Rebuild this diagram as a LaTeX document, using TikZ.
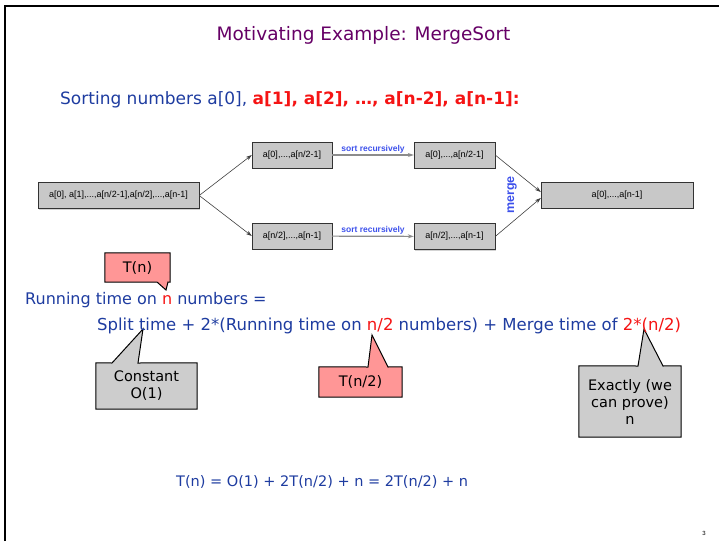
\documentclass[tikz,border=0pt]{standalone}
\usepackage{fontspec}
\setmainfont{DejaVu Sans}
\newfontfamily\boxfont{Liberation Sans}
\usetikzlibrary{positioning,shadows,backgrounds,arrows.meta}

\definecolor{slideblue}{RGB}{30,60,160}
\definecolor{slidered}{RGB}{245,20,20}
\definecolor{titlepurple}{RGB}{102,0,102}
\definecolor{boxgray}{RGB}{200,200,200}
\definecolor{calloutred}{RGB}{255,150,150}
\definecolor{calloutgray}{RGB}{205,205,205}
\definecolor{labelblue}{RGB}{60,80,235}

\begin{document}
\begin{tikzpicture}[
    x=1pt, y=-1pt,
    array/.style={rectangle, draw=black!80, fill=boxgray, inner sep=0pt, minimum height=26pt,
        font=\boxfont\fontsize{9}{10}\selectfont,
        drop shadow={shadow xshift=1pt, shadow yshift=-1pt, opacity=0.35}},
    split/.style={-{Stealth[length=6pt,width=4pt]}, draw=black!75, line width=0.6pt},
    sortarrow/.style={-{Stealth[length=6pt,width=4pt]}, draw=black!45, line width=1.2pt},
    sortlabel/.style={font=\boxfont\bfseries\fontsize{8.5}{9}\selectfont, text=labelblue, inner sep=1pt},
    line/.style={anchor=base west, inner sep=0pt, text=slideblue, font=\fontsize{16}{19}\selectfont},
    calltext/.style={inner sep=0pt, align=center, font=\fontsize{14.5}{17}\selectfont},
    callout/.style={draw=black, line width=1pt}
]
\useasboundingbox (0,0) rectangle (719,541);

% slide frame
\draw[line width=2.5pt] (5,541) -- (5,6) -- (719,6);

% --- Text ---
\node (title) at (363.5,35) [text=titlepurple, font=\fontsize{18.5}{22}\selectfont] {Motivating Example: MergeSort};
\node (problem) at (60,104) [line, font=\fontsize{17}{20}\selectfont] {Sorting numbers a[0], \textcolor{slidered}{\bfseries a[1], a[2], …, a[n-2], a[n-1]:}};

% --- Nodes ---
\node (whole) at (118.5,195.5) [array, minimum width=161pt] {a[0], a[1],...,a[n/2-1],a[n/2],...,a[n-1]};
\node (lefthalf) at (292,155) [array, minimum width=80pt] {a[0],...,a[n/2-1]};
\node (righthalf) at (292,236) [array, minimum width=80pt] {a[n/2],...,a[n-1]};
\node (leftsorted) at (454.5,155) [array, minimum width=81pt] {a[0],...,a[n/2-1]};
\node (rightsorted) at (454.5,236.5) [array, minimum width=81pt] {a[n/2],...,a[n-1]};
\node (merged) at (617,195) [array, minimum width=152pt] {a[0],...,a[n-1]};
\node (mergelabel) at (512,195) [rotate=90, text=labelblue, font=\boxfont\bfseries\fontsize{12.5}{13}\selectfont] {merge};

% --- Edges ---
\draw [split] (whole.east) -- (lefthalf.west);
\draw [split] (whole.east) -- (righthalf.west);
\draw [sortarrow] (lefthalf) -- node[above, sortlabel] {sort recursively} (leftsorted);
\draw [sortarrow] (righthalf) -- node[above, sortlabel] {sort recursively} (rightsorted);
\draw [split] (leftsorted.east) -- ([yshift=3pt]merged.west);
\draw [split] (rightsorted.east) -- ([yshift=-3pt]merged.west);

% --- Running time ---
\node (running) at (25,304) [line] {Running time on \textcolor{slidered}{n} numbers =};
\node (recurrence) at (97,330) [line, font=\fontsize{16.5}{19}\selectfont] {Split time + 2*(Running time on \textcolor{slidered}{n/2} numbers) + Merge time of \textcolor{slidered}{2*(n/2)}};
\node (result) at (176,486) [line, font=\fontsize{14.5}{17}\selectfont] {T(n) = O(1) + 2T(n/2) + n = 2T(n/2) + n};

% pointer tips
\coordinate (tipn) at (166,290);
\coordinate (tipsplit) at (143,329);
\coordinate (tiphalf) at (372,335);
\coordinate (tipmerge) at (644,329);

% --- Callouts ---
\node (tn) at (137.5,267.5) [calltext, minimum width=65pt, minimum height=29pt] {T(n)};
\node (const) at (146.5,386) [calltext, minimum width=101pt, minimum height=46pt] {Constant\\O(1)};
\node (thalf) at (360.5,382) [calltext, minimum width=83pt, minimum height=30pt] {T(n/2)};
\node (exact) at (630,401.5) [calltext, minimum width=102pt, minimum height=71pt] {Exactly (we\\can prove)\\n};

\begin{scope}[on background layer]
\draw [callout, fill=calloutred] (tn.north west) -- (tn.north east) -- (tn.south east) -- (168,282) -- (tipn) -- (157,282) -- (tn.south west) -- cycle;
\draw [callout, fill=calloutgray] (const.north west) -- (112,363) -- (tipsplit) -- (138,363) -- (const.north east) -- (const.south east) -- (const.south west) -- cycle;
\draw [callout, fill=calloutred] (thalf.north west) -- (368,367) -- (tiphalf) -- (388,367) -- (thalf.north east) -- (thalf.south east) -- (thalf.south west) -- cycle;
\draw [callout, fill=calloutgray] (exact.north west) -- (638,366) -- (tipmerge) -- (663,366) -- (exact.north east) -- (exact.south east) -- (exact.south west) -- cycle;
\end{scope}

% page number
\node (page) at (704,533) [font=\boxfont\fontsize{6}{7}\selectfont] {3};

\end{tikzpicture}
\end{document}
